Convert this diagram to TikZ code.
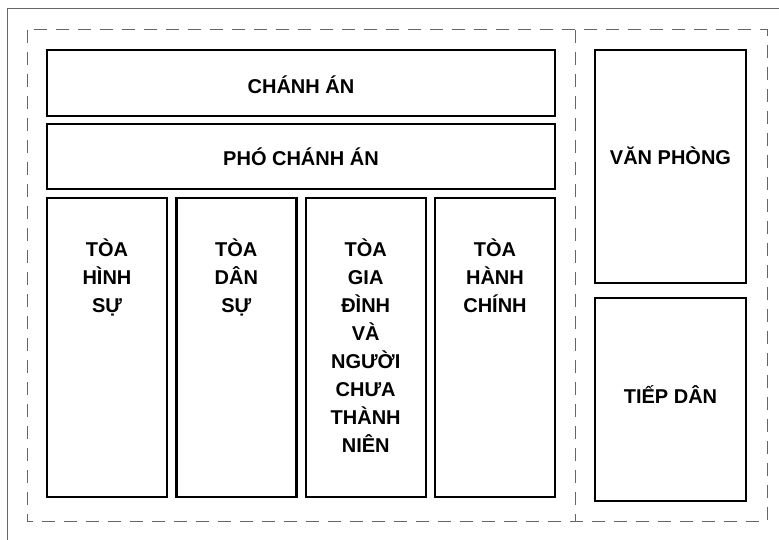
\documentclass[tikz,border=0pt]{standalone}
\usepackage{fontspec}
\setmainfont{Liberation Sans}
\begin{document}
\begin{tikzpicture}[x=1pt,y=-1pt,
  box/.style={draw=black,line width=2.4pt,rectangle,inner sep=0pt},
  lbl/.style={font=\fontsize{20}{28}\selectfont\bfseries,align=center,inner sep=0pt,anchor=base},
  frameline/.style={draw=black!60,line width=1pt},
  dashline/.style={draw=black!60,line width=1pt,dash pattern=on 13pt off 9pt}]
\useasboundingbox (0,0) rectangle (779,540);
\fill[white] (0,0) rectangle (779,540);
% outer frame
\draw[frameline] (7,540) -- (7,9) -- (779,9);
% dashed group
\draw[dashline] (27,30) rectangle (767,521);
\draw[dashline] (575,30) -- (575,521);
% boxes
\node[box,minimum width=508pt,minimum height=66pt] (chanhan) at (301,83) {};
\node[box,minimum width=508pt,minimum height=65pt] (pho) at (301,156.5) {};
\node[box,minimum width=120pt,minimum height=299pt] (c1) at (107,347.5) {};
\node[box,minimum width=120pt,minimum height=299pt] (c2) at (236.3,347.5) {};
\node[box,minimum width=120pt,minimum height=299pt] (c3) at (365.7,347.5) {};
\node[box,minimum width=120pt,minimum height=299pt] (c4) at (495,347.5) {};
\node[box,minimum width=151pt,minimum height=233pt] (vp) at (670.5,166.5) {};
\node[box,minimum width=151pt,minimum height=203pt] (td) at (670.5,399.5) {};
% labels (base anchor = baseline of last line)
\node[lbl] (chanhanT) at (301,94) {CHÁNH ÁN};
\node[lbl] (phoT) at (301,166) {PHÓ CHÁNH ÁN};
\node[lbl] (c1T) at (107,312.5) {TÒA\\HÌNH\\SỰ};
\node[lbl] (c2T) at (236.3,312.5) {TÒA\\DÂN\\SỰ};
\node[lbl] (c3T) at (365.7,452.5) {TÒA\\GIA\\ĐÌNH\\VÀ\\NGƯỜI\\CHƯA\\THÀNH\\NIÊN};
\node[lbl] (c4T) at (495,312.5) {TÒA\\HÀNH\\CHÍNH};
\node[lbl] (vpT) at (670.5,165) {VĂN PHÒNG};
\node[lbl] (tdT) at (670.5,403) {TIẾP DÂN};
\end{tikzpicture}
\end{document}
